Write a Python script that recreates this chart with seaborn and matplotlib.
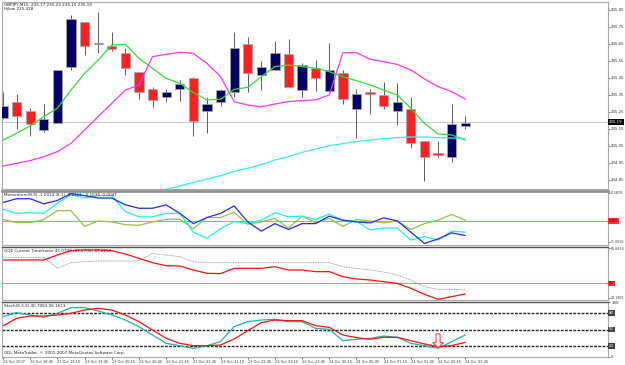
import numpy as np
import pandas as pd
import matplotlib.pyplot as plt
import seaborn as sns

sns.set_style("white")
plt.rcParams["font.family"] = ["DejaVu Sans"]
plt.rcParams["font.size"] = 3

# GBPJPY M15 candles, 23 Oct 18:15 .. 24 Oct 02:45
opens = [235.217, 235.307, 235.258, 235.146, 235.187, 235.517, 235.779, 235.648, 235.638, 235.595,
         235.487, 235.387, 235.336, 235.387, 235.448, 235.258, 235.307, 235.368, 235.648, 235.468,
         235.497, 235.589, 235.377, 235.507, 235.372, 235.477, 235.268, 235.368, 235.348, 235.256,
         235.268, 235.077, 235.007, 234.987, 235.168]
highs = [235.370, 235.356, 235.272, 235.295, 235.497, 235.821, 235.779, 235.840, 235.719, 235.625,
         235.487, 235.399, 235.387, 235.438, 235.454, 235.340, 235.387, 235.719, 235.689, 235.548,
         235.668, 235.677, 235.538, 235.558, 235.658, 235.497, 235.387, 235.387, 235.428, 235.419,
         235.336, 235.080, 235.077, 235.297, 235.226]
lows = [235.210, 235.148, 235.109, 235.134, 235.183, 235.497, 235.585, 235.595, 235.609, 235.468,
        235.326, 235.277, 235.307, 235.317, 235.109, 235.128, 235.287, 235.340, 235.368, 235.377,
        235.497, 235.397, 235.338, 235.372, 235.372, 235.297, 235.099, 235.236, 235.266, 235.175,
        235.036, 234.846, 234.987, 234.956, 235.148]
closes = [235.285, 235.226, 235.177, 235.209, 235.497, 235.797, 235.638, 235.658, 235.619, 235.507,
          235.368, 235.319, 235.366, 235.417, 235.199, 235.297, 235.377, 235.628, 235.477, 235.517,
          235.599, 235.397, 235.528, 235.448, 235.497, 235.326, 235.356, 235.358, 235.287, 235.307,
          235.066, 234.987, 234.997, 235.177, 235.187]

ma_fast = [235.085, 235.125, 235.168, 235.223, 235.272, 235.379, 235.477, 235.556, 235.644, 235.648,
           235.566, 235.507, 235.448, 235.419, 235.364, 235.321, 235.325, 235.383, 235.395, 235.458,
           235.517, 235.526, 235.517, 235.507, 235.487, 235.458, 235.434, 235.409, 235.379, 235.350,
           235.272, 235.183, 235.121, 235.115, 235.085]
hilow = [234.932, 234.948, 234.964, 234.987, 235.017, 235.066, 235.144, 235.223, 235.301, 235.379,
         235.409, 235.576, 235.589, 235.601, 235.595, 235.536, 235.458, 235.311, 235.291, 235.281,
         235.297, 235.311, 235.317, 235.321, 235.350, 235.599, 235.599, 235.560, 235.546, 235.530,
         235.497, 235.444, 235.399, 235.370, 235.326]
ma_slow_start = 12
ma_slow = [234.795, 234.815, 234.836, 234.856, 234.875, 234.901, 234.919, 234.940, 234.968, 234.987,
           235.013, 235.032, 235.052, 235.064, 235.076, 235.085, 235.093, 235.099, 235.103, 235.103,
           235.099, 235.097, 235.095]
last_price = 235.19
price_ticks = [235.85, 235.75, 235.65, 235.55, 235.45, 235.35, 235.25, 235.15, 235.05, 234.95, 234.85]

mom_blue = [0.254, 0.307, 0.307, 0.235, 0.283, 0.379, 0.350, 0.317, 0.317, 0.221,
            0.173, 0.173, 0.221, 0.101, -0.043, 0.043, 0.101, 0.206, -0.019, -0.149,
            -0.043, -0.125, -0.043, -0.043, 0.062, 0.005, -0.019, -0.034, 0.038, -0.005,
            -0.163, -0.322, -0.259, -0.173, -0.211]
mom_cyan = [0.158, 0.101, 0.110, 0.101, 0.245, 0.365, 0.317, 0.350, 0.350, 0.125,
            0.053, 0.053, 0.101, 0.101, -0.163, -0.250, -0.115, -0.014, -0.043, 0.005,
            0.110, 0.053, 0.062, 0.014, 0.091, 0.005, -0.010, -0.130, -0.106, -0.106,
            -0.274, -0.226, -0.274, -0.149, -0.163]
mom_olive = [0.014, -0.029, -0.029, 0.014, 0.139, 0.139, -0.082, -0.005, -0.019, -0.058,
             -0.067, -0.019, 0.019, 0.019, -0.115, 0.043, 0.043, 0.115, -0.053, -0.019,
             0.029, -0.106, 0.062, -0.029, 0.029, -0.082, 0.014, -0.005, -0.034, -0.005,
             -0.125, -0.043, 0.005, 0.086, 0.005]
mom_ticks = [0.3876, -0.3016]

qqe_main = [61.04, 61.04, 61.04, 61.04, 63.38, 65.42, 65.73, 65.73, 65.42, 63.85,
            61.82, 59.78, 58.37, 58.22, 56.34, 54.78, 54.62, 57.12, 57.12, 57.12,
            57.90, 56.34, 56.34, 55.56, 55.56, 53.21, 52.12, 51.65, 50.86, 50.08,
            47.74, 44.92, 42.57, 43.82, 45.07]
qqe_slow = [62.29, 62.29, 62.29, 62.29, 57.12, 59.78, 60.25, 60.57, 60.57, 60.57,
            60.57, 64.17, 63.38, 62.60, 60.25, 59.78, 59.78, 59.78, 59.78, 59.78,
            59.78, 59.78, 59.78, 59.78, 59.78, 57.90, 57.12, 56.34, 55.40, 54.00,
            51.65, 48.51, 47.27, 47.27, 47.27]
qqe_ticks = [66.6654, 43.1905]

stoch_k = [73.3, 80.6, 76.4, 72.1, 79.4, 89.7, 89.7, 83.6, 76.4, 67.3,
           55.2, 40.0, 24.8, 20.6, 15.8, 20.6, 27.9, 55.2, 64.2, 67.3,
           68.5, 64.2, 64.2, 52.1, 50.3, 29.7, 32.1, 33.9, 38.2, 35.8,
           24.8, 20.6, 15.8, 27.9, 40.0]
stoch_d = [56.4, 70.3, 74.5, 74.5, 76.4, 79.4, 85.5, 88.5, 85.5, 76.4,
           64.2, 49.1, 33.9, 24.8, 20.6, 20.6, 21.8, 32.7, 47.9, 62.4,
           67.3, 66.1, 66.1, 57.0, 53.9, 40.0, 35.2, 32.1, 35.8, 35.8,
           29.7, 23.6, 18.8, 20.6, 26.7]
stoch_levels = [80, 50, 20]
signal_bar = 32

time_labels = ["23 Oct 2007", "23 Oct 18:45", "23 Oct 19:15", "23 Oct 19:45", "23 Oct 20:15",
               "23 Oct 20:45", "23 Oct 21:15", "23 Oct 21:45", "23 Oct 22:15", "23 Oct 22:45",
               "23 Oct 23:15", "23 Oct 23:45", "24 Oct 00:15", "24 Oct 00:45", "24 Oct 01:15",
               "24 Oct 01:45", "24 Oct 02:15", "24 Oct 02:45"]

bars = np.arange(len(opens))
o = np.array(opens)
c = np.array(closes)
up = c >= o
body_lo = np.minimum(o, c)
body_h = np.maximum(np.abs(c - o), 0.005)

fig = plt.figure(figsize=(6.25, 3.65), dpi=100)
L, W = 2 / 625, 606 / 625
ax1 = fig.add_axes([L, 1 - 189 / 365, W, 187 / 365])
ax2 = fig.add_axes([L, 1 - 245 / 365, W, 54 / 365], sharex=ax1)
ax3 = fig.add_axes([L, 1 - 300 / 365, W, 53 / 365], sharex=ax1)
ax4 = fig.add_axes([L, 1 - 357 / 365, W, 55 / 365], sharex=ax1)
axes = [ax1, ax2, ax3, ax4]

TXT = 3.0


def box_label(ax, y, text, fc, tc):
    ax.text(1.002, y, text, transform=ax.get_yaxis_transform(), fontsize=2.8,
            color=tc, va="center", ha="left",
            bbox=dict(boxstyle="square,pad=0.25", fc=fc, ec="none"))


# main window
ax1.axhline(last_price, color="#C8C8C8", lw=0.7, zorder=1)
ax1.vlines(bars, lows, highs, color="#5A5A5A", lw=0.7, zorder=2)
ax1.bar(bars[up], body_h[up], bottom=body_lo[up], width=0.68, color="#000066",
        edgecolor="#A8A8A8", linewidth=0.5, zorder=3)
ax1.bar(bars[~up], body_h[~up], bottom=body_lo[~up], width=0.68, color="#FF2020",
        edgecolor="#A8A8A8", linewidth=0.5, zorder=3)
sns.lineplot(x=bars, y=ma_fast, ax=ax1, color="#33DD33", lw=0.9, zorder=4)
sns.lineplot(x=bars, y=hilow, ax=ax1, color="#FF33FF", lw=0.9, zorder=4)
sns.lineplot(x=np.arange(ma_slow_start, ma_slow_start + len(ma_slow)), y=ma_slow, ax=ax1,
             color="#33EEEE", lw=0.9, zorder=4)
ax1.set_ylim(234.797, 235.897)
ax1.set_yticks(price_ticks)
ax1.set_yticklabels([f"{t:.2f}" for t in price_ticks])
box_label(ax1, last_price, f"{last_price:.2f}", "black", "white")
ax1.text(0.003, 0.995, "GBPJPY,M15  235.17 235.23 235.15 235.19\nHilow 235.328",
         transform=ax1.transAxes, va="top", ha="left", fontsize=TXT, color="#222222",
         linespacing=1.15)

# momentum
ax2.axhline(0, color="#FF8080", lw=0.7)
sns.lineplot(x=bars, y=mom_olive, ax=ax2, color="#99C040", lw=0.9)
sns.lineplot(x=bars, y=mom_cyan, ax=ax2, color="#22EEEE", lw=0.9)
sns.lineplot(x=bars, y=mom_blue, ax=ax2, color="#2828EE", lw=0.9)
ax2.set_ylim(-0.3438, 0.4157)
ax2.set_yticks(mom_ticks)
ax2.set_yticklabels([f"{t:.4f}" for t in mom_ticks])
box_label(ax2, 0, "0.00", "#FF3030", "#300000")
ax2.text(0.003, 0.97, "Momentum(8,9) -1.0014 (8,1) -0.2111  -0.1635  0.0047",
         transform=ax2.transAxes, va="top", ha="left", fontsize=TXT, color="#222222")

# QQE
ax3.axhline(50, color="#FF8080", lw=0.7)
sns.lineplot(x=bars, y=qqe_slow, ax=ax3, color="#808080", lw=0.6, linestyle=(0, (1, 1)))
sns.lineplot(x=bars, y=qqe_main, ax=ax3, color="#FF1010", lw=0.9)
ax3.set_ylim(42.25, 67.14)
ax3.set_yticks(qqe_ticks)
ax3.set_yticklabels([f"{t:.4f}" for t in qqe_ticks])
box_label(ax3, 50, "50", "#FF3030", "#300000")
ax3.text(0.003, 0.97, "QQE Current Timeframe 45.0700 (47.2700) 47.2259",
         transform=ax3.transAxes, va="top", ha="left", fontsize=TXT, color="#222222")

# stochastic
for lvl in stoch_levels:
    ax4.axhline(lvl, color="#202020", lw=1.0, linestyle=(0, (2, 1)))
    box_label(ax4, lvl, str(lvl), "#404040", "white")
sns.lineplot(x=bars, y=stoch_k, ax=ax4, color="#20B2AA", lw=0.9)
sns.lineplot(x=bars, y=stoch_d, ax=ax4, color="#FF1010", lw=0.9)
ax4.arrow(signal_bar, 42, 0, -25, width=0.3, head_width=0.8, head_length=9,
          length_includes_head=True, fc="white", ec="#FF3030", lw=0.7, zorder=5)
ax4.set_ylim(0, 100)
ax4.set_yticks([100, 0])
ax4.set_yticklabels(["100", "0"])
ax4.text(0.003, 0.97, "Stoch(8,3,3) 40.7083 26.1613",
         transform=ax4.transAxes, va="top", ha="left", fontsize=TXT, color="#222222")
ax4.text(0.003, 0.03, "ODL MetaTrader, \u00a9 2001-2007 MetaQuotes Software Corp.",
         transform=ax4.transAxes, va="bottom", ha="left", fontsize=TXT, color="#222222")

ax1.set_xlim(-0.074, 44.5)
ax4.set_xticks(np.arange(0, len(bars), 2))
ax4.set_xticklabels(time_labels, ha="left", fontsize=2.5, color="#333333")

for i, ax in enumerate(axes):
    ax.yaxis.tick_right()
    ax.tick_params(axis="y", length=1.5, width=0.5, pad=0.8, labelsize=2.8,
                   colors="#333333", right=True, left=False)
    ax.set_xlabel("")
    ax.set_ylabel("")
    if ax is not ax4:
        ax.tick_params(axis="x", bottom=False, labelbottom=False)
    else:
        ax.tick_params(axis="x", length=1.5, width=0.5, pad=0.5, bottom=True)
    for name, sp in ax.spines.items():
        sp.set_color("#A8A8A8")
        sp.set_linewidth(0.8)
    if i == 1:
        ax.spines["top"].set_color("#909090")
        ax.spines["top"].set_linewidth(2.0)
    elif i > 1:
        ax.spines["top"].set_color("#505050")
        ax.spines["top"].set_linewidth(1.0)
        ax.spines["top"].set_linestyle((0, (2, 1)))
    if ax.get_legend():
        ax.get_legend().remove()

# longer 4-decimal labels need a smaller size to fit the right margin
ax2.tick_params(axis="y", labelsize=2.5, pad=0.5)
ax3.tick_params(axis="y", labelsize=2.3, pad=0.5)

fig.savefig("out.png", dpi=100)
